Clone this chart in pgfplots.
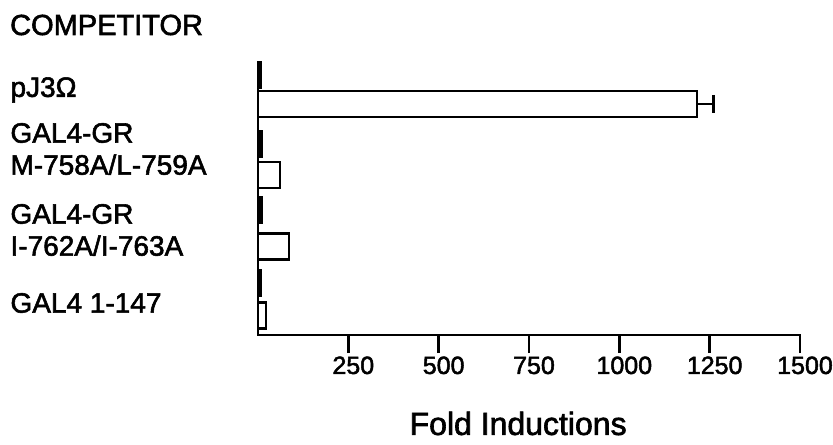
\documentclass[border=0pt]{standalone}
\usepackage{fontspec}
\setmainfont{Liberation Sans}[FakeBold=2]
\usepackage{pgfplots}
\pgfplotsset{compat=1.18}
\begin{document}
\begin{tikzpicture}
\begin{axis}[
  scale only axis, width=542bp, height=273bp,
  xmin=0, xmax=1500, ymin=-0.514, ymax=3.386,
  axis x line=bottom, axis y line=left,
  axis line style={-, line width=2.8bp, line cap=rect},
  xtick={250,500,750,1000,1250,1500},
  xtick style={line width=2.8bp, black},
  tick align=outside,
  major tick length=18bp,
  ytick={-0.057,0.986,2.143,2.986},
  yticklabels={GAL4 1-147, {GAL4-GR\\I-762A/I-763A}, {GAL4-GR\\M-758A/L-759A}, pJ3Ω},
  ytick style={draw=none},
  yticklabel style={anchor=west, align=left, xshift=-233bp, font=\fontsize{28bp}{32bp}\selectfont},
  xticklabel style={font=\fontsize{25bp}{28bp}\selectfont, xshift=5bp},
  /pgf/number format/assume math mode=true,
  /pgf/number format/1000 sep={},
  xlabel={Fold Inductions},
  xlabel style={font=\fontsize{32bp}{36bp}\selectfont, at={(axis description cs:0.48,-0.366)}, anchor=base},
  clip=false,
  bar width=0.37,
]
\addplot[xbar, bar shift=0pt, fill=black, draw=black, line width=1.5bp]
  coordinates {(10,3.2) (12,2.214) (12,1.271) (10,0.229)};
\addplot[xbar, bar shift=0pt, fill=white, draw=black, line width=2.8bp]
  coordinates {(1215,2.786) (61,1.771) (86,0.75) (22,-0.236)};
\addplot[draw=none, mark=none, forget plot,
  error bars/.cd, x dir=plus, x explicit, error mark=|,
  error bar style={line width=2.8bp, black},
  error mark options={mark size=9bp, line width=3bp, black}]
  coordinates {(1215,2.786) +- (45,0)};
\node[anchor=base west, font=\fontsize{29bp}{32bp}\selectfont, inner sep=0pt] at (rel axis cs:-0.4576,1.099) {COMPETITOR};
\coordinate (bbA) at (rel axis cs:-0.476,-0.3993);
\coordinate (bbB) at (rel axis cs:1.0609,1.2271);
\end{axis}
\pgfresetboundingbox
\path (bbA) rectangle (bbB);
\end{tikzpicture}
\end{document}
